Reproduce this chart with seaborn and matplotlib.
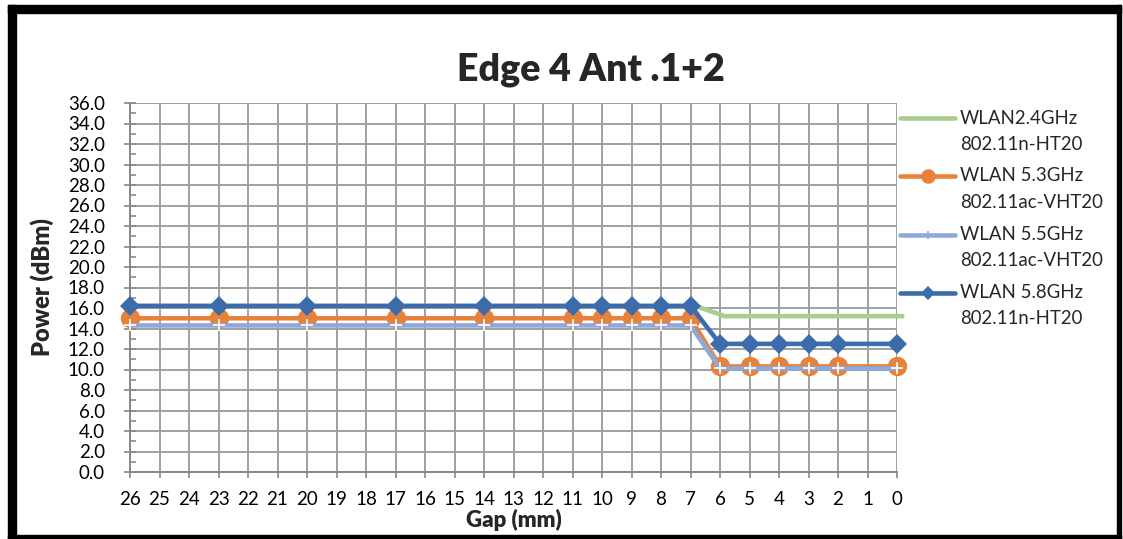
import matplotlib
matplotlib.use("Agg")
import matplotlib.pyplot as plt
from matplotlib.lines import Line2D
from matplotlib.patches import Rectangle
import matplotlib.transforms as mtransforms
from matplotlib.ticker import MultipleLocator, FormatStrFormatter
import seaborn as sns
import pandas as pd

# ---------------- data ----------------
gap_ticks = list(range(26, -1, -1))
gaps = [26, 23, 20, 17, 14, 11, 10, 9, 8, 7, 6, 5, 4, 3, 2, 0]
wlan24 = [16.2, 16.2, 16.2, 16.2, 16.2, 16.2, 16.2, 16.2, 16.2, 16.2, 15.2, 15.2, 15.2, 15.2, 15.2, 15.2]
wlan53 = [15.0, 15.0, 15.0, 15.0, 15.0, 15.0, 15.0, 15.0, 15.0, 15.0, 10.3, 10.3, 10.3, 10.3, 10.3, 10.3]
wlan55 = [14.3, 14.3, 14.3, 14.3, 14.3, 14.3, 14.3, 14.3, 14.3, 14.3, 10.1, 10.1, 10.1, 10.1, 10.1, 10.1]
wlan58 = [16.2, 16.2, 16.2, 16.2, 16.2, 16.2, 16.2, 16.2, 16.2, 16.2, 12.5, 12.5, 12.5, 12.5, 12.5, 12.5]
series_names = ["WLAN2.4GHz", "WLAN 5.3GHz", "WLAN 5.5GHz", "WLAN 5.8GHz"]
series_modes = ["802.11n-HT20", "802.11ac-VHT20", "802.11ac-VHT20", "802.11n-HT20"]
title = "Edge 4 Ant .1+2"
xlabel = "Gap (mm)"
ylabel = "Power (dBm)"

# ---------------- style ----------------
sns.set_style("white")
plt.rcParams["font.family"] = ["Lato", "DejaVu Sans"]

W, H = 1123, 539
fig = plt.figure(figsize=(W / 100, H / 100), dpi=100)


def fx(x):
    return x / W


def fy(y):
    return 1 - y / H


ax_l, ax_r, ax_t, ax_b = 130, 897, 103, 472
ax = fig.add_axes([fx(ax_l), fy(ax_b), fx(ax_r - ax_l), (ax_b - ax_t) / H])

colors = ["#A9CD8F", "#E8823A", "#8EA9D8", "#3D6CAD"]
grid_c = "#A0A0A0"

df = pd.DataFrame({"gap": gaps * 4,
                   "power": wlan24 + wlan53 + wlan55 + wlan58,
                   "series": sum([[n] * len(gaps) for n in series_names], [])})

styles = [
    dict(marker=None),
    dict(marker="o", markersize=14, markeredgewidth=0),
    dict(marker="+", markersize=8, markeredgewidth=1.2),
    dict(marker="D", markersize=9.8, markeredgewidth=0),
]

for i, name in enumerate(series_names):
    sub = df[df["series"] == name]
    sns.lineplot(data=sub, x="gap", y="power", ax=ax, color=colors[i],
                 linewidth=3.3, sort=False, estimator=None, zorder=3 + i,
                 clip_on=False, legend=False, **styles[i])

# green line extends slightly beyond the last category in the reference
green_line = ax.lines[0]
green_line.set_transform(mtransforms.offset_copy(ax.transData, fig=fig, x=5, y=0, units="dots"))
green_line.set_solid_capstyle("projecting")

ax.set_xlim(26, 0)
ax.set_ylim(0, 36)
ax.set_xticks(gap_ticks)
ax.set_xticklabels([str(t) for t in gap_ticks])
ax.yaxis.set_major_locator(MultipleLocator(2))
ax.yaxis.set_minor_locator(MultipleLocator(1))
ax.yaxis.set_major_formatter(FormatStrFormatter("%.1f"))

ax.grid(True, which="major", color=grid_c, linewidth=1.4, zorder=0)
ax.set_axisbelow(True)
for s in ["top", "right"]:
    ax.spines[s].set_visible(False)
for s in ["left", "bottom"]:
    ax.spines[s].set_color("#888888")
    ax.spines[s].set_linewidth(1.4)

ax.tick_params(axis="y", which="major", direction="inout", length=8, width=1.2,
               color="#888888", pad=14, labelsize=13.5, labelcolor="black", left=True)
ax.tick_params(axis="y", which="minor", direction="in", length=4, width=1.2,
               color="#888888", left=True)
ax.tick_params(axis="x", which="major", direction="out", length=4, width=1.2,
               color="#888888", pad=10, labelsize=13.5, labelcolor="black", bottom=True)

ax.set_xlabel(xlabel, fontsize=16, fontweight="heavy")
ax.set_ylabel(ylabel, fontsize=17, fontweight="heavy")
ax.xaxis.label.set_va("center")
ax.yaxis.label.set_va("center")
ax.xaxis.set_label_coords(0.5, (ax_b - 520) / (ax_b - ax_t))
ax.yaxis.set_label_coords((42 - ax_l) / (ax_r - ax_l), 0.5)

fig.text(fx(591), fy(70), title, fontsize=27, fontweight="heavy", ha="center", va="center")

# ---------------- legend ----------------
leg_y = [118, 176, 235, 293]
for i in range(4):
    y = fy(leg_y[i])
    st = dict(styles[i])
    mk = st.pop("marker")
    ln = Line2D([fx(900), fx(927.5), fx(955)], [y, y, y], transform=fig.transFigure,
                color=colors[i], linewidth=3.3, solid_capstyle="round",
                marker=mk, markevery=[1],
                **({k: (v * 0.75 if k == "markersize" else v) for k, v in st.items()}))
    fig.add_artist(ln)
    fig.text(fx(960), y, series_names[i], fontsize=13.4, va="center", ha="left")
    fig.text(fx(960), fy(leg_y[i] + 26), series_modes[i], fontsize=13.4, va="center", ha="left")

# ---------------- outer frame ----------------
frame = [(8, 5, 1113, 8), (8, 5, 8, 534), (1117, 5, 4, 534), (8, 535, 1113, 4)]
for (x, y, w, h) in frame:
    fig.add_artist(Rectangle((fx(x), fy(y + h)), w / W, h / H, transform=fig.transFigure,
                             color="black", zorder=10))

fig.savefig("out.png", dpi=100)
